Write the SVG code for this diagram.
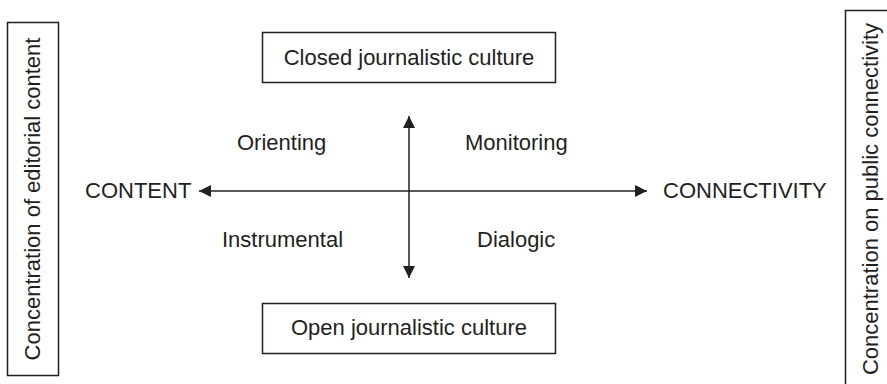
<svg xmlns="http://www.w3.org/2000/svg" width="887" height="384" viewBox="0 0 887 384">
<style>
text{font-family:"Liberation Sans",Arial,sans-serif;font-size:22px;fill:#231f20}
.box{fill:#fff;stroke:#231f20;stroke-width:1.5}
.ax{stroke:#231f20;stroke-width:1.5;fill:none}
</style>
<defs>
<marker id="ah" viewBox="0 0 12 12" refX="12" refY="6" markerWidth="12" markerHeight="12" markerUnits="userSpaceOnUse" orient="auto-start-reverse">
<path d="M0,0 L12,6 L0,12 Z" fill="#231f20"/>
</marker>
</defs>
<rect width="887" height="384" fill="#fff"/>
<g id="connectors">
<line class="ax" x1="199" y1="191" x2="647" y2="191" marker-start="url(#ah)" marker-end="url(#ah)"/>
<line class="ax" x1="409" y1="116" x2="409" y2="278" marker-start="url(#ah)" marker-end="url(#ah)"/>
</g>
<g id="left-box">
<rect class="box" x="7.5" y="22.5" width="51" height="353"/>
<text transform="translate(40,199) rotate(-90)" text-anchor="middle">Concentration of editorial content</text>
</g>
<g id="right-box">
<rect class="box" x="845.5" y="10.5" width="60" height="390"/>
<text transform="translate(878,199) rotate(-90)" text-anchor="middle">Concentration on public connectivity</text>
</g>
<g id="closed">
<rect class="box" x="262.5" y="32.5" width="293" height="50"/>
<text x="409" y="65" text-anchor="middle">Closed journalistic culture</text>
</g>
<g id="open">
<rect class="box" x="262.5" y="303.5" width="293" height="50"/>
<text x="409" y="335" text-anchor="middle">Open journalistic culture</text>
</g>
<g id="content"><text x="85" y="198">CONTENT</text></g>
<g id="connectivity"><text x="663" y="198">CONNECTIVITY</text></g>
<g id="orienting"><text x="237" y="150">Orienting</text></g>
<g id="monitoring"><text x="465" y="150">Monitoring</text></g>
<g id="instrumental"><text x="222" y="247">Instrumental</text></g>
<g id="dialogic"><text x="477" y="247">Dialogic</text></g>
</svg>
